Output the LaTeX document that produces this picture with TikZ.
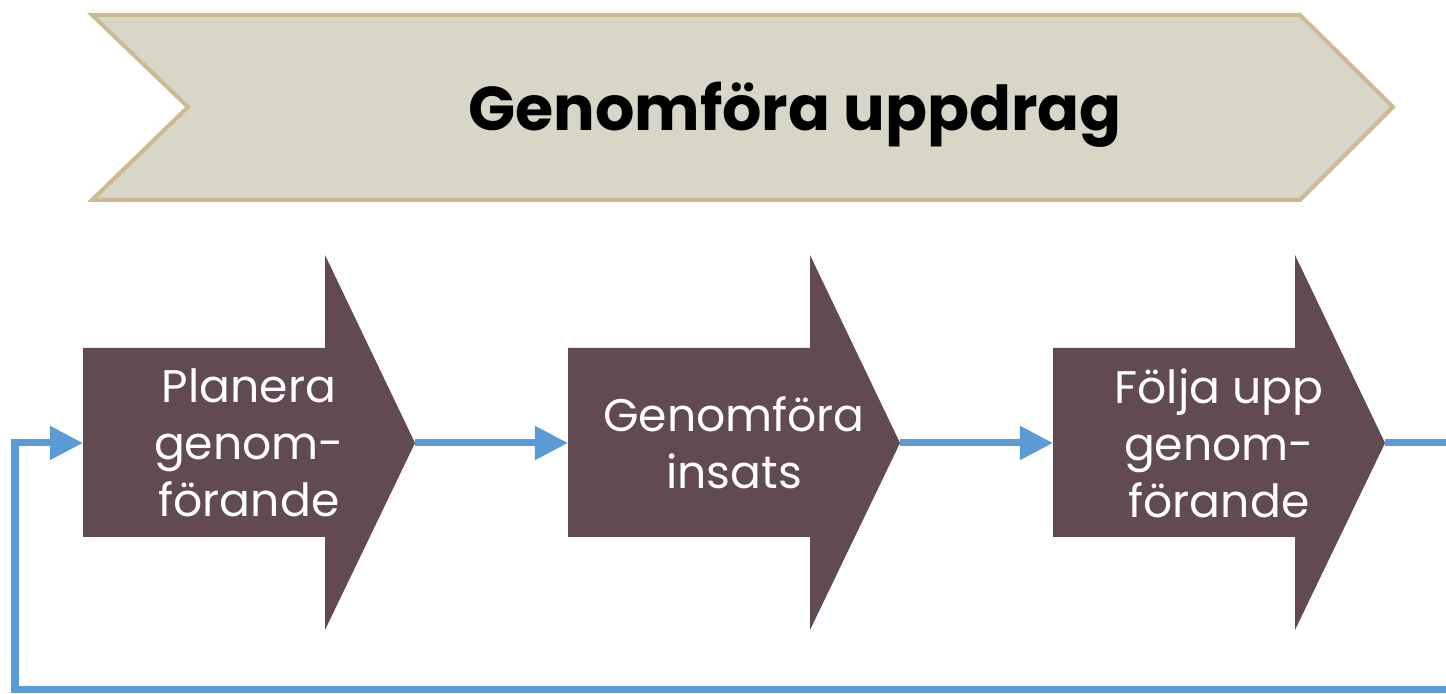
\documentclass[tikz,border=0pt]{standalone}
\usepackage{fontspec}
\setmainfont{Poppins}
\usetikzlibrary{arrows.meta}

\definecolor{bannerfill}{HTML}{D8D6C7}
\definecolor{bannerline}{HTML}{CDB992}
\definecolor{stepfill}{HTML}{614A50}
\definecolor{flowblue}{HTML}{5B9BD5}

\tikzset{
  banner/.style={fill=bannerfill, draw=bannerline, line width=1.15pt, line join=miter},
  stepshape/.style={fill=stepfill},
  steptext/.style={text=white, align=center, font=\fontsize{13}{16.2}\selectfont},
  flow/.style={draw=flowblue, line width=2pt, -{Triangle[length=9.4pt,width=9.2pt]}},
}

\begin{document}
\begin{tikzpicture}
        \useasboundingbox (0,0) rectangle (14.46,6.94);

        % Banner
        \draw[banner] (0.92,6.79) -- (13.00,6.79) -- (13.93,5.87) -- (13.00,4.94)
              -- (0.92,4.94) -- (1.88,5.87) -- cycle;
        \node[font=\fontsize{17.6}{21}\selectfont\bfseries] (title) at (7.95,5.79) {Genomföra uppdrag};

        % Stegen
        \foreach \i/\name/\txt in {0/plan/{Planera\\genom-\\förande},
                                   1/genf/{Genomföra\\insats},
                                   2/folj/{Följa upp\\genom-\\förande}} {
            \begin{scope}[xshift=\i*4.85cm]
                \fill[stepshape] (0.83,3.46) -- (3.25,3.46) -- (3.25,4.39) -- (4.15,2.51)
                      -- (3.25,0.64) -- (3.25,1.57) -- (0.83,1.57) -- cycle;
                \coordinate (\name-in) at (0.83,2.51);
                \coordinate (\name-tip) at (4.15,2.51);
                \node[steptext] (\name) at (2.49,2.51) {\txt};
            \end{scope}
        }

        % Linjer
        \coordinate (outR) at (14.9,0.04);
        \coordinate (back) at (0.15,0.04);
        \draw[flow] (plan-tip) -- (genf-in);
        \draw[flow] (genf-tip) -- (folj-in);
        \draw[flow] (folj-tip) -| (outR) -- (back) |- (plan-in);
    \end{tikzpicture}
\end{document}
